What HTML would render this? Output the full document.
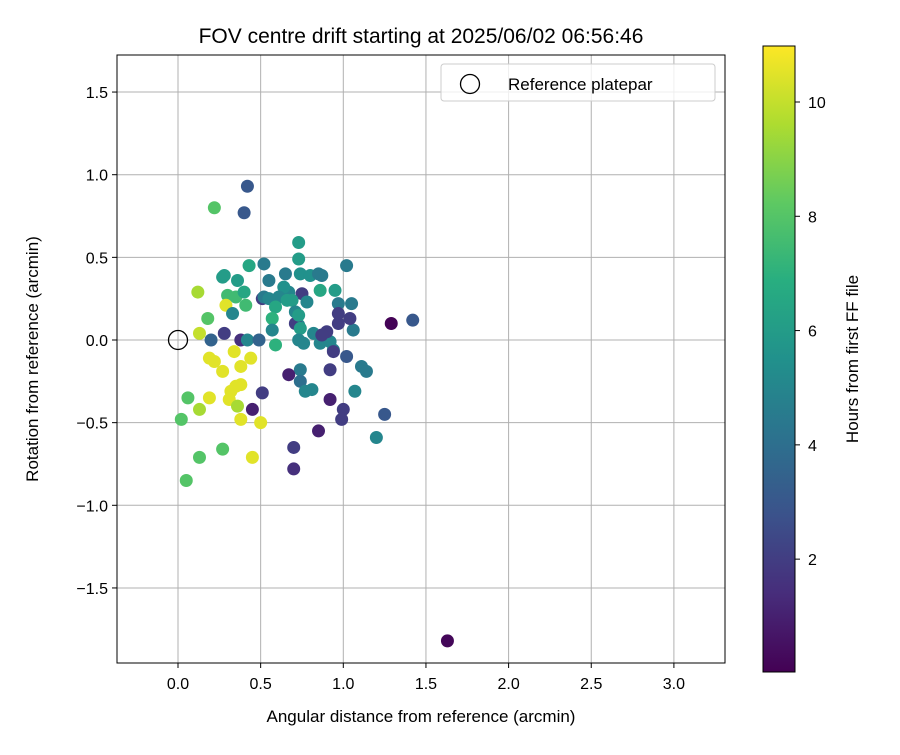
<!DOCTYPE html>
<html><head><meta charset="utf-8"><style>
body{margin:0;background:#fff}
svg{font-family:"Liberation Sans","DejaVu Sans",sans-serif}
</style></head><body>
<svg id="chart" width="900" height="750" viewBox="0 0 900 750">
<rect width="900" height="750" fill="#fff"/>
<defs><linearGradient id="vir" x1="0" y1="1" x2="0" y2="0">
<stop offset="0" stop-color="#440154"/><stop offset="0.125" stop-color="#472d7b"/><stop offset="0.25" stop-color="#3b528b"/><stop offset="0.375" stop-color="#2c728e"/><stop offset="0.5" stop-color="#21918c"/><stop offset="0.625" stop-color="#28ae80"/><stop offset="0.75" stop-color="#5ec962"/><stop offset="0.875" stop-color="#addc30"/><stop offset="1" stop-color="#fde725"/></linearGradient>
<clipPath id="pc"><rect x="117" y="55" width="608" height="608"/></clipPath></defs>
<g id="grid"></g>
<g id="pts" clip-path="url(#pc)"></g>
<rect x="117" y="55" width="608" height="608" fill="none" stroke="#000" stroke-width="1"/>
<g id="ticks"></g>
<text x="421" y="43" text-anchor="middle" font-size="21">FOV centre drift starting at 2025/06/02 06:56:46</text>
<text x="421" y="722" text-anchor="middle" font-size="17">Angular distance from reference (arcmin)</text>
<text transform="translate(38,359) rotate(-90)" text-anchor="middle" font-size="17">Rotation from reference (arcmin)</text>
<g>
<rect x="441" y="64" width="274" height="37" rx="3" fill="#fff" fill-opacity="0.8" stroke="#ccc"/>
<circle cx="470" cy="84" r="9.5" fill="none" stroke="#000" stroke-width="1.3"/>
<text x="508" y="90" font-size="17">Reference platepar</text>
</g>
<circle id="refpt" r="9.5" fill="none" stroke="#000" stroke-width="1.3"/>
<rect x="763" y="46" width="32" height="626" fill="url(#vir)" stroke="#000" stroke-width="1"/>
<g id="cbt"></g>
<text transform="translate(858,359) rotate(-90)" text-anchor="middle" font-size="17">Hours from first FF file</text>
</svg>
<script>
const xTicks=[0.0,0.5,1.0,1.5,2.0,2.5,3.0];
const yTicks=[1.5,1.0,0.5,0.0,-0.5,-1.0,-1.5];
const cbTicks=[2,4,6,8,10];
const xs=[1.63,1.29,1.42,0.42,0.40,0.22,0.73,0.73,1.02,0.52,0.43,0.65,0.27,0.28,0.36,0.55,0.12,0.30,0.35,0.40,0.74,0.80,0.87,0.85,0.75,0.67,0.64,0.61,0.51,0.52,0.55,0.86,0.95,0.97,1.05,0.78,0.69,0.66,0.59,0.29,0.33,0.41,0.18,0.57,0.71,0.73,0.71,0.74,0.73,0.57,0.73,0.76,0.82,0.86,0.88,0.92,0.97,1.06,1.04,0.97,0.90,0.87,0.13,0.20,0.28,0.38,0.42,0.49,0.59,0.94,1.02,0.94,0.34,0.44,0.19,0.22,0.27,0.38,0.92,0.74,1.11,1.14,0.67,0.74,0.81,0.77,1.07,0.38,0.35,0.32,0.51,0.19,0.06,0.31,0.92,0.36,0.13,0.45,1.00,1.25,0.38,0.99,0.02,0.50,0.85,1.20,0.70,0.27,0.45,0.13,0.70,0.05];
const ys=[-1.82,0.10,0.12,0.93,0.77,0.80,0.59,0.49,0.45,0.46,0.45,0.40,0.38,0.39,0.36,0.36,0.29,0.27,0.26,0.29,0.40,0.39,0.39,0.40,0.28,0.29,0.32,0.26,0.25,0.26,0.25,0.30,0.30,0.22,0.22,0.23,0.24,0.24,0.20,0.21,0.16,0.21,0.13,0.13,0.17,0.09,0.10,0.07,0.15,0.06,0.0,-0.02,0.04,-0.02,0.01,-0.01,0.10,0.06,0.13,0.16,0.05,0.03,0.04,0.0,0.04,0.0,0.0,0.0,-0.03,-0.06,-0.10,-0.07,-0.07,-0.11,-0.11,-0.13,-0.19,-0.16,-0.18,-0.18,-0.16,-0.19,-0.21,-0.25,-0.30,-0.31,-0.31,-0.27,-0.28,-0.31,-0.32,-0.35,-0.35,-0.36,-0.36,-0.40,-0.42,-0.42,-0.42,-0.45,-0.48,-0.48,-0.48,-0.50,-0.55,-0.59,-0.65,-0.66,-0.71,-0.71,-0.78,-0.85];
const hours=[0.2,0.1,3,3,3,8,6,6,4.5,4.5,6.5,4.5,6,6,6,4.5,9.5,7.5,7.5,6.5,5.5,5.5,4.5,4.5,2,5,5.5,5,2,4.5,5,6.5,6,4.5,4.5,5,6,6,6.5,10.5,5,7.5,8,7,5,5,2,6,6,5,5,5,5,5,5,5,2,4.5,2,2,2,2,10,3.5,2,1.5,5,3.5,7,5,3,2,10.5,10.5,10.5,10.5,10.5,10.5,2,4.5,4.5,4.5,1,4,5,5,5,10.5,10.5,10.5,2,10.5,8,10.5,1,9.5,9.5,1,2,3,10.5,2,8,10.5,1,5,2,8,10.5,8,1.5,8];
const X=v=>178+v*165.3, Y=v=>340-v*165.3, CB=h=>672-(h-0.025)/(10.98-0.025)*626;
const vir=[[68,1,84],[71,45,123],[59,82,139],[44,114,142],[33,145,140],[40,174,128],[94,201,98],[173,220,48],[253,231,37]];
function col(h){let t=Math.max(0,Math.min(1,(h-0.025)/(10.98-0.025)))*8,i=Math.min(7,Math.floor(t)),f=t-i;const a=vir[i],b=vir[i+1];return `rgb(${a.map((c,k)=>Math.round(c+(b[k]-c)*f)).join(',')})`;}
const NS='http://www.w3.org/2000/svg';
function mk(tag,at,parent){const e=document.createElementNS(NS,tag);for(const k in at)e.setAttribute(k,at[k]);parent.appendChild(e);return e;}
const g=document.getElementById('grid'),tk=document.getElementById('ticks'),pts=document.getElementById('pts'),cb=document.getElementById('cbt');
xTicks.forEach(v=>{const l=mk('line',{x1:X(v),x2:X(v),y1:55,y2:663,stroke:'#b0b0b0','stroke-width':1},g);


const t=mk('line',{x1:X(v),x2:X(v),y1:663,y2:668,stroke:'#000'},tk);
const tx=mk('text',{x:X(v),y:689,'text-anchor':'middle','font-size':16},tk);tx.textContent=v.toFixed(1);

});
yTicks.forEach(v=>{const l=mk('line',{x1:117,x2:725,y1:Y(v),y2:Y(v),stroke:'#b0b0b0','stroke-width':1},g);


mk('line',{x1:112,x2:117,y1:Y(v),y2:Y(v),stroke:'#000'},tk);
const tx=mk('text',{x:108,y:Y(v)+6,'text-anchor':'end','font-size':16},tk);tx.textContent=v.toFixed(1).replace('-','\u2212');

});
xs.forEach((x,i)=>{const c=mk('circle',{cx:X(x),cy:Y(ys[i]),r:6.5,fill:col(hours[i])},pts);

});
const rp=document.getElementById('refpt');rp.setAttribute('cx',X(0));rp.setAttribute('cy',Y(0));
cbTicks.forEach(h=>{mk('line',{x1:795,x2:800,y1:CB(h),y2:CB(h),stroke:'#000'},cb);
const tx=mk('text',{x:808,y:CB(h)+6,'font-size':16},cb);tx.textContent=h;

});
</script>
</body></html>
